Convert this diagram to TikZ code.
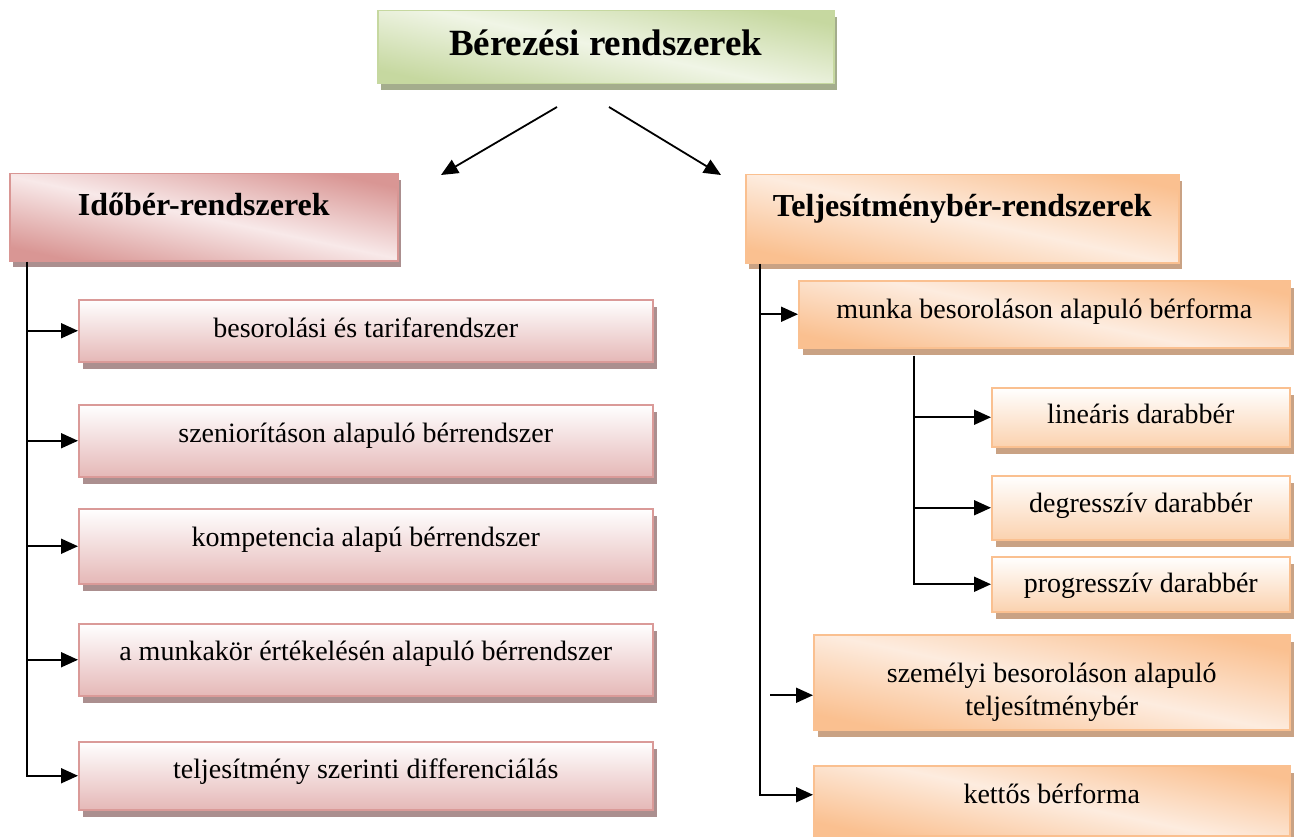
\documentclass[tikz,border=0pt]{standalone}
\usepackage{fontspec}
\setmainfont{Liberation Serif}
\usetikzlibrary{arrows.meta,shadows}

\definecolor{grnDark}{HTML}{C6D8A0}
\definecolor{grnLight}{HTML}{F0F5E6}
\definecolor{grnShadow}{HTML}{A4AD8D}
\definecolor{pinkDark}{HTML}{D99694}
\definecolor{pinkLight}{HTML}{F8E9E9}
\definecolor{pinkLine}{HTML}{DA9A98}
\definecolor{pinkBottom}{HTML}{E5B8B7}
\definecolor{pinkShadow}{HTML}{AB8F8F}
\definecolor{orgDark}{HTML}{FAC090}
\definecolor{orgLight}{HTML}{FDECDF}
\definecolor{orgBottom}{HTML}{FBD2AF}
\definecolor{orgShadow}{HTML}{C9A284}

\pgfdeclarehorizontalshading{grnDiag}{100bp}{color(0bp)=(grnDark); color(25bp)=(grnDark); color(50bp)=(grnLight); color(75bp)=(grnDark); color(100bp)=(grnDark)}
\pgfdeclarehorizontalshading{pinkDiag}{100bp}{color(0bp)=(pinkDark); color(25bp)=(pinkDark); color(50bp)=(pinkLight); color(75bp)=(pinkDark); color(100bp)=(pinkDark)}
\pgfdeclarehorizontalshading{orgDiag}{100bp}{color(0bp)=(orgDark); color(25bp)=(orgDark); color(50bp)=(orgLight); color(75bp)=(orgDark); color(100bp)=(orgDark)}

\tikzset{
  box/.style={draw,line width=1.5pt,anchor=north west,align=center,inner xsep=0pt,inner ysep=0pt,
    text height=38pt,font=\fontsize{28}{33}\selectfont},
  headbox/.style={box,font=\fontsize{32}{38}\selectfont\bfseries,text height=42pt},
  grnhead/.style={headbox,draw=grnDark,shade,shading=grnDiag,shading angle=78,
    general shadow={fill=grnShadow,shadow xshift=3pt,shadow yshift=-6pt}},
  pinkhead/.style={headbox,draw=pinkDark,shade,shading=pinkDiag,shading angle=78,
    general shadow={fill=pinkShadow,shadow xshift=3pt,shadow yshift=-6pt}},
  orghead/.style={headbox,draw=orgDark,shade,shading=orgDiag,shading angle=78,
    general shadow={fill=orgShadow,shadow xshift=3pt,shadow yshift=-6pt}},
  pinkleaf/.style={box,draw=pinkLine,top color=white,bottom color=pinkBottom,minimum width=574pt,
    general shadow={fill=pinkShadow,shadow xshift=4pt,shadow yshift=-7pt}},
  orgleaf/.style={box,draw=orgDark,top color=white,bottom color=orgBottom,minimum width=298pt,
    general shadow={fill=orgShadow,shadow xshift=4pt,shadow yshift=-7pt}},
  orgdiag/.style={box,draw=orgDark,shade,shading=orgDiag,shading angle=78,
    general shadow={fill=orgShadow,shadow xshift=4pt,shadow yshift=-7pt}},
  conn/.style={line width=1.8pt,-{Triangle[length=17pt,width=15pt]}}
}

\begin{document}
\begin{tikzpicture}[x=1pt,y=-1pt]
\useasboundingbox (0,0) rectangle (1297,837);

\node[grnhead,minimum width=456pt,text height=45pt,text depth=28pt,font=\fontsize{37}{40}\selectfont\bfseries] (title) at (377,10) {Bérezési rendszerek};
\node[pinkhead,minimum width=388pt,text depth=45pt] (ido) at (9,173) {Időbér-rendszerek};
\node[orghead,minimum width=433pt,text depth=46pt] (telj) at (745,174) {Teljesítménybér-rendszerek};

\coordinate (titleL) at (557,107);
\coordinate (idoTip) at (441,175);
\coordinate (titleR) at (609,107);
\coordinate (teljTip) at (721,175);
\draw[conn] (titleL) -- (idoTip);
\draw[conn] (titleR) -- (teljTip);

% idober
\node[pinkleaf,text depth=24pt] (besor) at (78,299) {besorolási és tarifarendszer};
\node[pinkleaf,text depth=34pt] (szen) at (78,404) {szeniorításon alapuló bérrendszer};
\node[pinkleaf,text depth=37pt] (komp) at (78,508) {kompetencia alapú bérrendszer};
\node[pinkleaf,text height=37pt,text depth=35pt] (munkakor) at (78,623) {a munkakör értékelésén alapuló bérrendszer};
\node[pinkleaf,text height=37pt,text depth=31pt] (diff) at (78,741) {teljesítmény szerinti differenciálás};

\coordinate (idoTrunk) at ([xshift=18pt]ido.south west);
\draw[conn] (idoTrunk) |- (diff.west);
\foreach \n in {besor,szen,komp,munkakor}
  \draw[conn] (idoTrunk |- \n.west) -- (\n.west);

% teljesitmenyber
\node[orgdiag,minimum width=491pt,text depth=29pt] (munka) at (798,280) {munka besoroláson alapuló bérforma};
\node[orgleaf,text height=36pt,text depth=23pt] (lin) at (991,387) {lineáris darabbér};
\node[orgleaf,text height=37pt,text depth=27pt] (deg) at (991,475) {degresszív darabbér};
\node[orgleaf,text height=36pt,text depth=19pt] (prog) at (991,556) {progresszív darabbér};
\node[orgdiag,minimum width=476pt,text height=81pt,text depth=14pt] (szem) at (813,634) {személyi besoroláson alapuló\\teljesítménybér};
\node[orgdiag,minimum width=476pt,text depth=32pt] (kett) at (813,765) {kettős bérforma};

\coordinate (teljTrunk) at ([xshift=15pt]telj.south west);
\draw[conn] (teljTrunk) |- ([yshift=6pt]kett.west);
\draw[conn] (teljTrunk |- munka.west) -- (munka.west);
\coordinate (szemIn) at ([yshift=-13pt]szem.west);
\draw[conn] ([xshift=-43pt]szemIn) -- (szemIn);

\coordinate (munkaTrunk) at ([xshift=116pt,yshift=-7pt]munka.south west);
\draw[conn] (munkaTrunk) |- (prog.west);
\foreach \n in {lin,deg}
  \draw[conn] (munkaTrunk |- \n.west) -- (\n.west);
\end{tikzpicture}
\end{document}
